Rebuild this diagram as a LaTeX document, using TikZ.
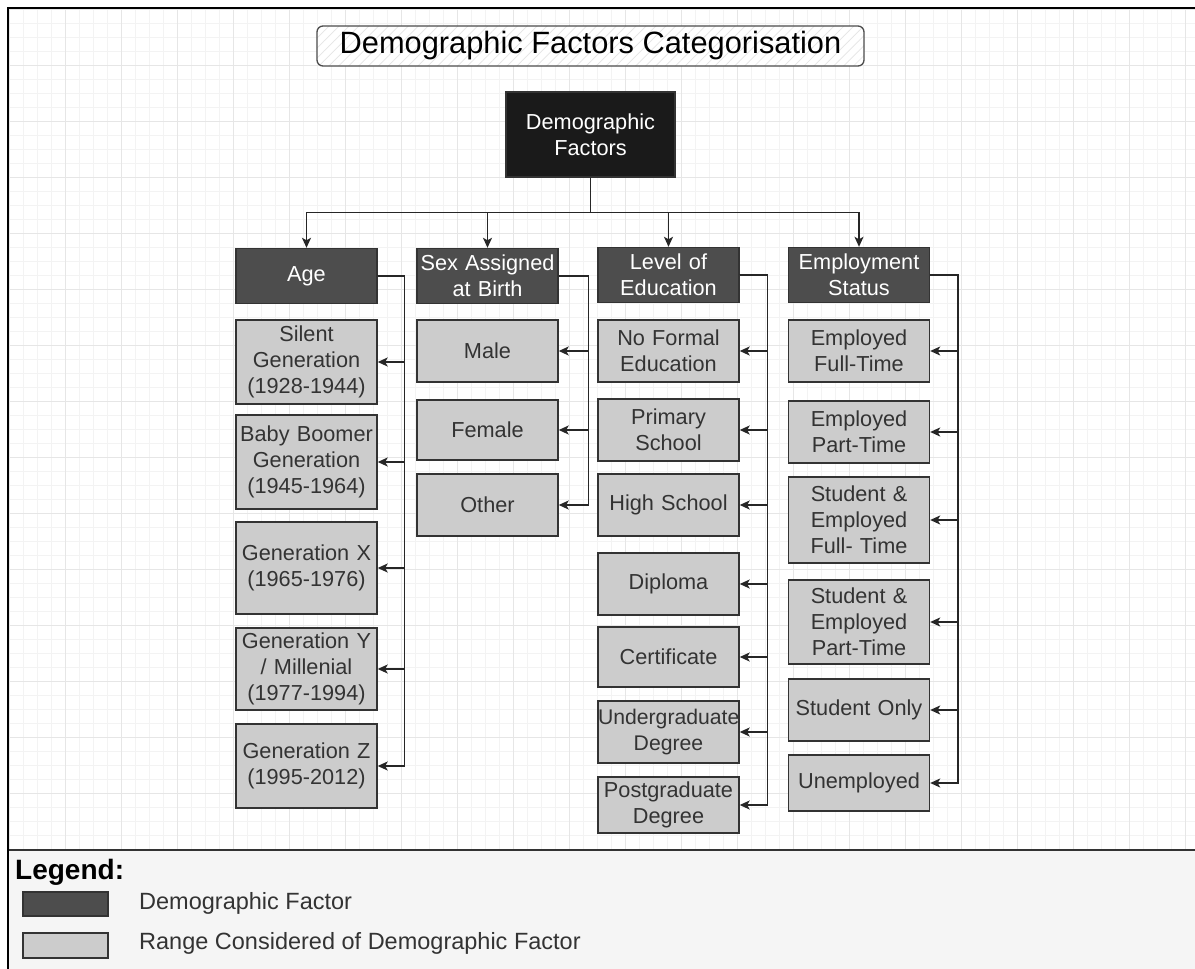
\documentclass[tikz,border=0pt]{standalone}
\usepackage{fontspec}
\setmainfont{Liberation Sans}
\usepackage{xcolor}
\usetikzlibrary{arrows.meta,patterns.meta}

\definecolor{factorgrey}{HTML}{4D4D4D}
\definecolor{rangegrey}{HTML}{CCCCCC}
\definecolor{edgegrey}{HTML}{333333}
\definecolor{rootblack}{HTML}{1A1A1A}
\definecolor{legendbg}{HTML}{F5F5F5}
\definecolor{gridminor}{HTML}{F3F3F3}
\definecolor{gridmajor}{HTML}{E6E6E6}

\begin{document}
\begin{tikzpicture}[x=1pt, y=-1pt,
      factor/.style={draw=edgegrey, line width=1.4pt, fill=factorgrey, text=white,
        text width=141pt, inner xsep=0pt, inner ysep=0pt, align=center,
        minimum height=55pt, font=\fontsize{21.7}{26}\selectfont},
      rangebox/.style={factor, fill=rangegrey, text=edgegrey},
      link/.style={line width=1.5pt, draw=black!85, -{Stealth[length=10pt, width=9pt, inset=2.5pt]}},
      keytext/.style={anchor=west, text=edgegrey, inner sep=0pt, font=\fontsize{23.5}{27}\selectfont}]
      \useasboundingbox (0,0) rectangle (1195,969);
      \fill[white] (0,0) rectangle (1195,969);
      % background grid
      \foreach \gx in {9,23,...,1195} \draw[gridminor, line width=0.8pt] (\gx,9) -- (\gx,850);
      \foreach \gy in {9,23,...,850} \draw[gridminor, line width=0.8pt] (9,\gy) -- (1195,\gy);
      \foreach \gx in {9,65,...,1195} \draw[gridmajor, line width=0.9pt] (\gx,9) -- (\gx,850);
      \foreach \gy in {9,65,...,850} \draw[gridmajor, line width=0.9pt] (9,\gy) -- (1195,\gy);
      % legend strip and frame
      \fill[legendbg] (9,851) rectangle (1195,969);
      \draw[line width=2pt, black!80] (8,850) -- (1195,850);
      \draw[line width=2.4pt] (8,969) -- (8,8) -- (1195,8);

      \node[draw=black!70, line width=1.3pt, rounded corners=6pt, preaction={fill=white},
        pattern={Lines[angle=45, distance=7pt, line width=0.7pt]}, pattern color=black!10,
        minimum width=547pt, minimum height=40pt, inner sep=0pt,
        font=\fontsize{30.8}{34}\selectfont] (title) at (590.5,46) {Demographic Factors Categorisation};
      \node[factor, fill=rootblack, text width=169pt, minimum height=85pt] (root) at (590.5,134.5) {Demographic\\Factors};

      \node[factor] (age) at (306.5,276) {Age};
      \node[factor] (sex) at (487.5,276) {Sex Assigned\\at Birth};
      \node[factor] (edu) at (668.5,275) {Level of\\Education};
      \node[factor] (emp) at (859,275) {Employment\\Status};

      \node[rangebox, minimum height=84pt] (silent) at (306.5,362) {Silent\\Generation\\(1928-1944)};
      \node[rangebox, minimum height=94pt] (boomer) at (306.5,462) {Baby Boomer\\Generation\\(1945-1964)};
      \node[rangebox, minimum height=92pt] (genx) at (306.5,568) {Generation X\\(1965-1976)};
      \node[rangebox, minimum height=82pt] (geny) at (306.5,669) {Generation Y\\/ Millenial\\(1977-1994)};
      \node[rangebox, minimum height=84pt] (genz) at (306.5,766) {Generation Z\\(1995-2012)};

      \node[rangebox, minimum height=62pt] (male) at (487.5,351) {Male};
      \node[rangebox, minimum height=60pt] (female) at (487.5,430) {Female};
      \node[rangebox, minimum height=62pt] (other) at (487.5,505) {Other};

      \node[rangebox, minimum height=62pt] (noformal) at (668.5,351) {No Formal\\Education};
      \node[rangebox, minimum height=62pt] (primary) at (668.5,430) {Primary\\School};
      \node[rangebox, minimum height=62pt] (highschool) at (668.5,505) {High School};
      \node[rangebox, minimum height=62pt] (diploma) at (668.5,584) {Diploma};
      \node[rangebox, minimum height=60pt] (certificate) at (668.5,657) {Certificate};
      \node[rangebox, minimum height=62pt] (undergrad) at (668.5,732) {\fontsize{21.2}{26}\selectfont Undergraduate\\Degree};
      \node[rangebox, minimum height=56pt] (postgrad) at (668.5,805) {Postgraduate\\Degree};

      \node[rangebox, minimum height=62pt] (empfull) at (859,351) {Employed\\Full-Time};
      \node[rangebox, minimum height=62pt] (emppart) at (859,432) {Employed\\Part-Time};
      \node[rangebox, minimum height=86pt] (stufull) at (859,520) {Student \&\\Employed\\Full- Time};
      \node[rangebox, minimum height=84pt] (stupart) at (859,622) {Student \&\\Employed\\Part-Time};
      \node[rangebox, minimum height=62pt] (stuonly) at (859,710) {Student Only};
      \node[rangebox, minimum height=56pt] (unemployed) at (859,783) {Unemployed};

      % root to factors
      \draw[link] (root.south) -- ++(0,35) -| (age.north);
      \draw[link] (root.south) -- ++(0,35) -| (sex.north);
      \draw[link] (root.south) -- ++(0,35) -| (edu.north);
      \draw[link] (root.south) -- ++(0,35) -| (emp.north);

      % factors to ranges
      \draw[link] (age.east) -- ++(27,0) |- (silent.east);
      \draw[link] (age.east) -- ++(27,0) |- (boomer.east);
      \draw[link] (age.east) -- ++(27,0) |- (genx.east);
      \draw[link] (age.east) -- ++(27,0) |- (geny.east);
      \draw[link] (age.east) -- ++(27,0) |- (genz.east);

      \draw[link] (sex.east) -- ++(30,0) |- (male.east);
      \draw[link] (sex.east) -- ++(30,0) |- (female.east);
      \draw[link] (sex.east) -- ++(30,0) |- (other.east);

      \draw[link] (edu.east) -- ++(28,0) |- (noformal.east);
      \draw[link] (edu.east) -- ++(28,0) |- (primary.east);
      \draw[link] (edu.east) -- ++(28,0) |- (highschool.east);
      \draw[link] (edu.east) -- ++(28,0) |- (diploma.east);
      \draw[link] (edu.east) -- ++(28,0) |- (certificate.east);
      \draw[link] (edu.east) -- ++(28,0) |- (undergrad.east);
      \draw[link] (edu.east) -- ++(28,0) |- (postgrad.east);

      \draw[link] (emp.east) -- ++(28,0) |- (empfull.east);
      \draw[link] (emp.east) -- ++(28,0) |- (emppart.east);
      \draw[link] (emp.east) -- ++(28,0) |- (stufull.east);
      \draw[link] (emp.east) -- ++(28,0) |- (stupart.east);
      \draw[link] (emp.east) -- ++(28,0) |- (stuonly.east);
      \draw[link] (emp.east) -- ++(28,0) |- (unemployed.east);

      % legend
      \node[anchor=west, inner sep=0pt, font=\bfseries\fontsize{28}{31}\selectfont] (legend) at (15,872) {Legend:};
      \node[draw=edgegrey, line width=1.3pt, fill=factorgrey, minimum width=85pt, minimum height=24pt, inner sep=0pt] (keyfactor) at (65.5,904) {};
      \node[draw=edgegrey, line width=1.3pt, fill=rangegrey, minimum width=85pt, minimum height=25pt, inner sep=0pt] (keyrange) at (65.5,945.5) {};
      \node[keytext] (keyfactortext) at (139,903) {Demographic Factor};
      \node[keytext] (keyrangetext) at (139,943) {Range Considered of Demographic Factor};
    \end{tikzpicture}
\end{document}
